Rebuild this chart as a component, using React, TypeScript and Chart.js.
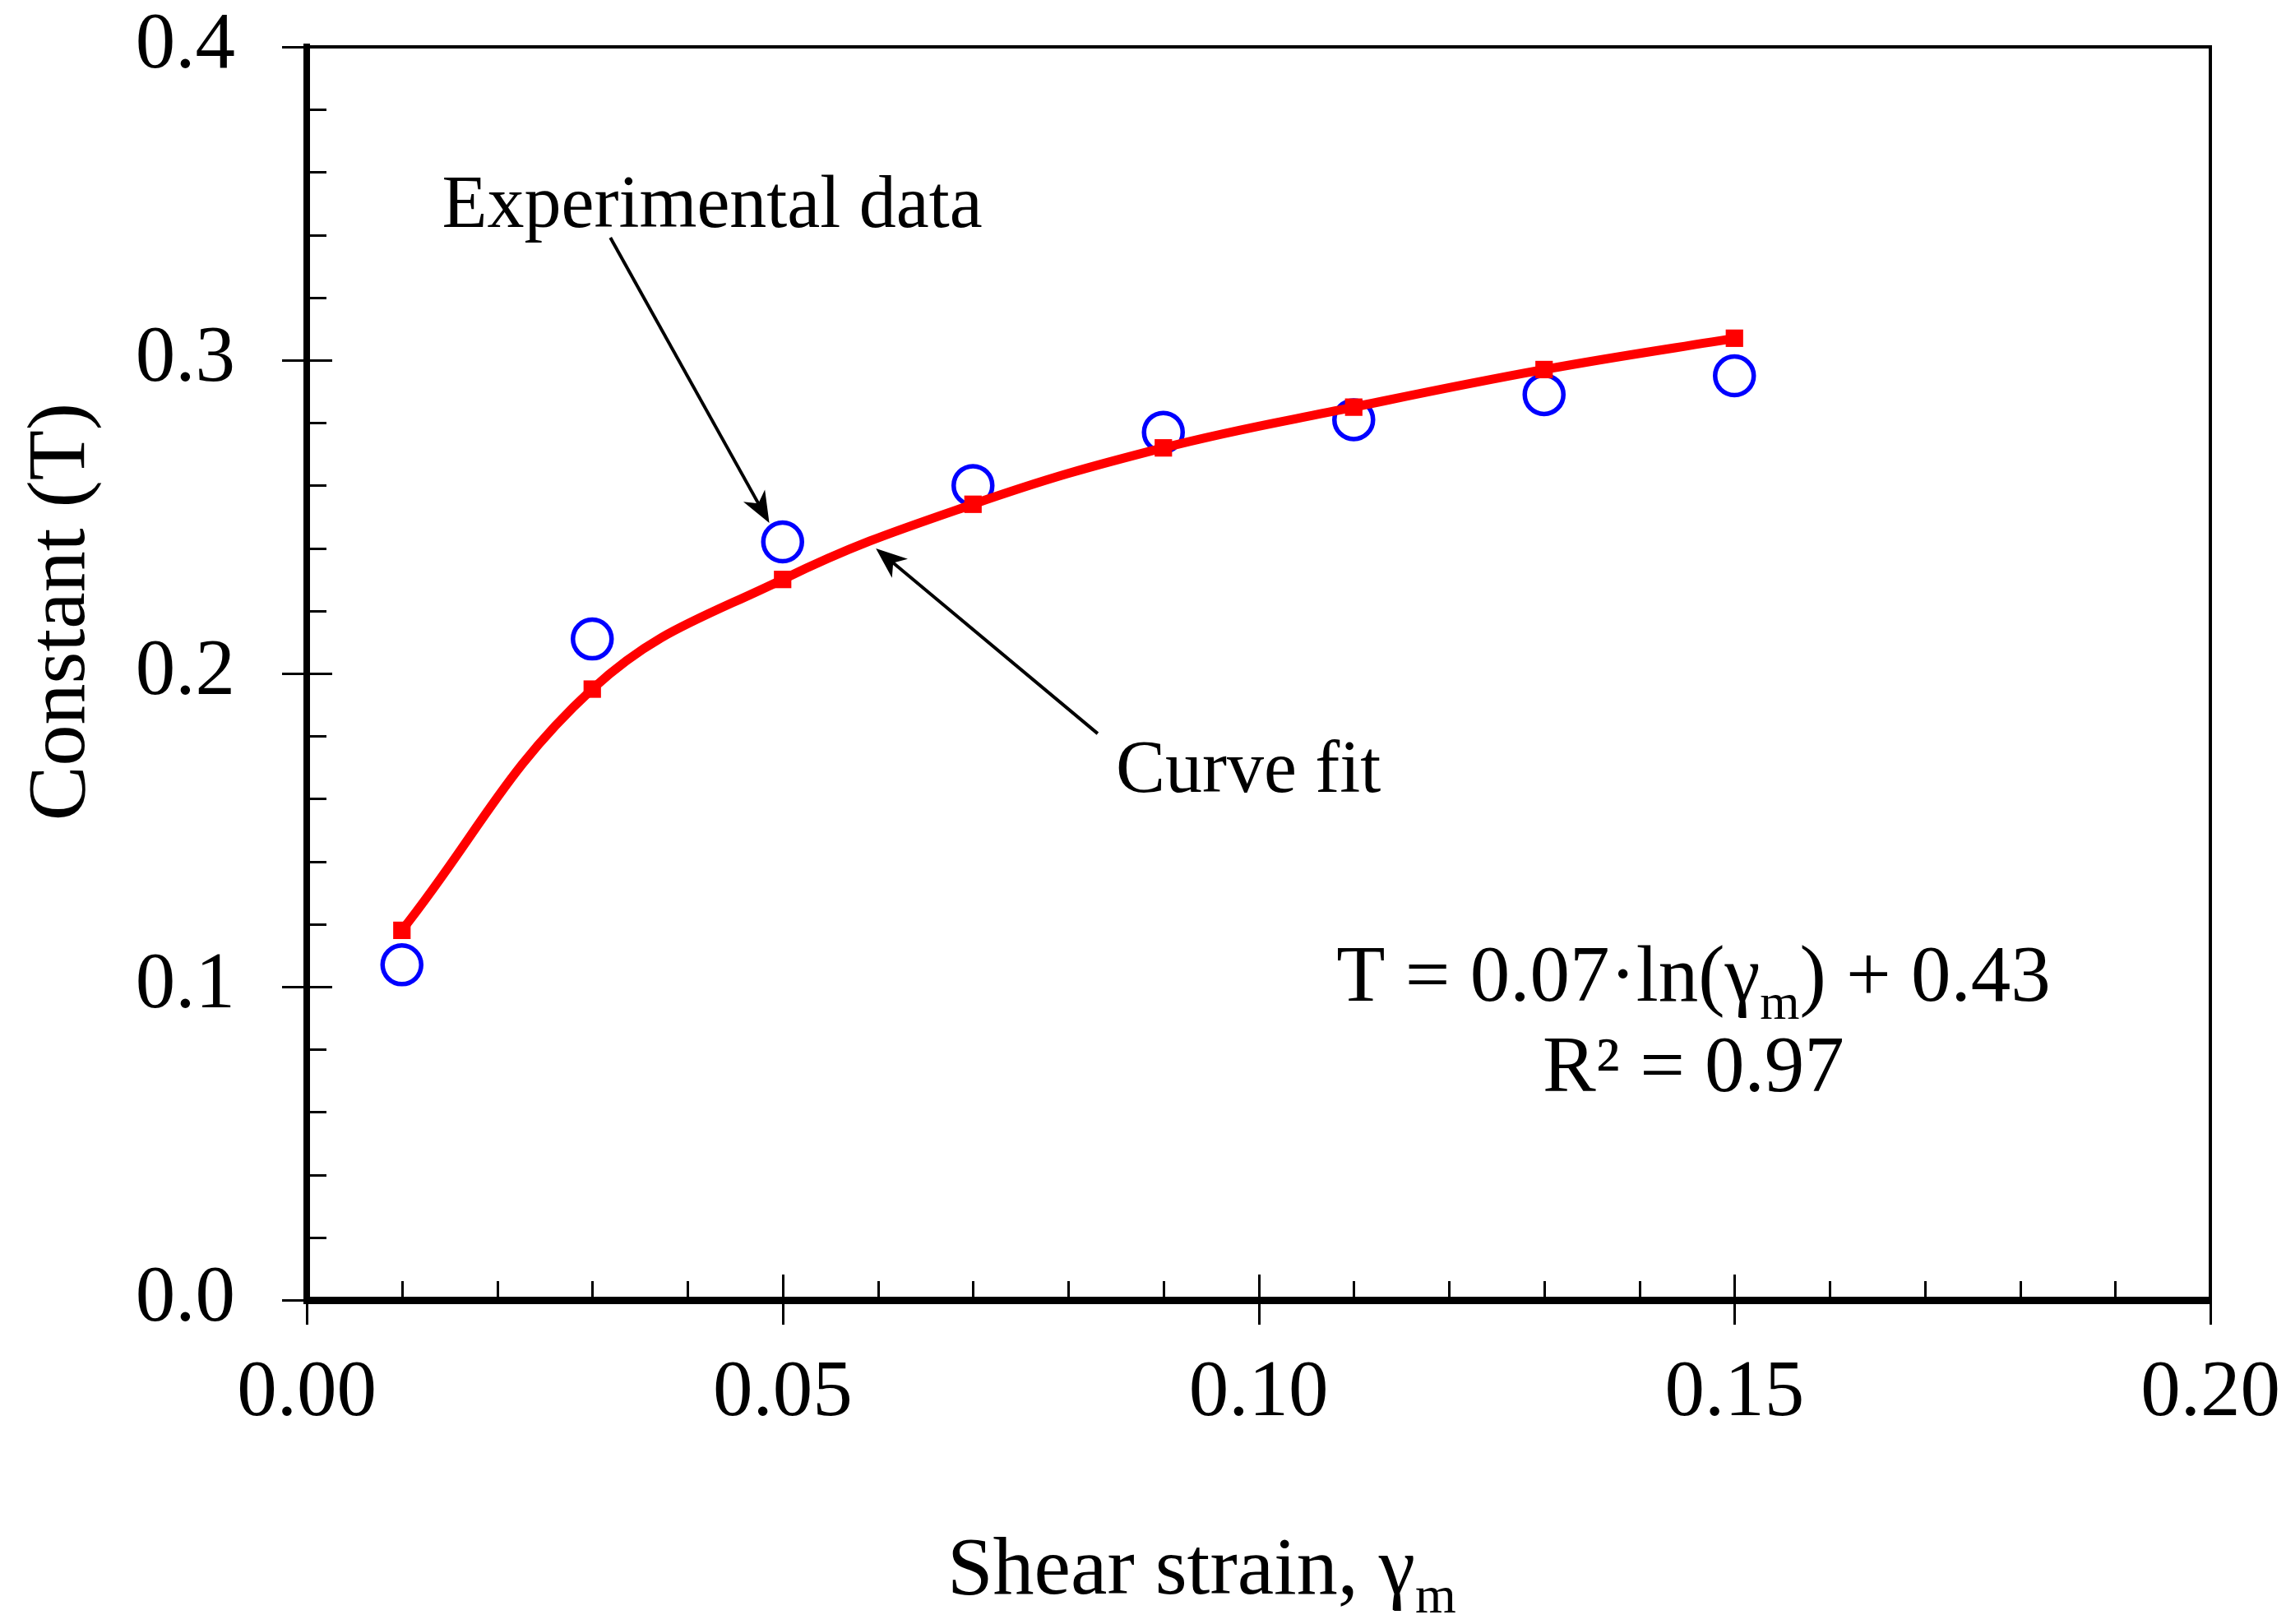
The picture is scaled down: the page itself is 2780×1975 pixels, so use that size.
import { useEffect, useRef } from 'react';
import { Chart, registerables } from 'chart.js';

Chart.register(...registerables);

// values
const shearStrain = [0.01, 0.03, 0.05, 0.07, 0.09, 0.11, 0.13, 0.15];
const experimentalT = [0.107, 0.211, 0.242, 0.260, 0.277, 0.281, 0.289, 0.295];
const curveFitT = [0.118, 0.195, 0.230, 0.254, 0.272, 0.285, 0.297, 0.307];

const xTickValues = [0, 0.05, 0.1, 0.15, 0.2];
const xTickLabels = ['0.00', '0.05', '0.10', '0.15', '0.20'];
const yTickValues = [0, 0.1, 0.2, 0.3, 0.4];
const yTickLabels = ['0.0', '0.1', '0.2', '0.3', '0.4'];
const xMinorStep = 0.01;
const yMinorStep = 0.02;

const SERIF = '"Liberation Serif", "Times New Roman", serif';

// where the plot frame sits on the canvas
const AREA = { left: 373, right: 2688, top: 57, bottom: 1581 };
const OUT_TICK = 30;

// annotation anchors, in data units
const expLabel = { x: 0.0426, y: 0.3425, text: 'Experimental data' };
const expArrow = { x0: 0.0319, y0: 0.3391, x1: 0.0486, y1: 0.248 };
const fitLabel = { x: 0.085, y: 0.1622, text: 'Curve fit' };
const fitArrow = { x0: 0.0831, y0: 0.1808, x1: 0.0598, y1: 0.2399 };
const eqPos = { x: 0.1457, y: 0.0955 };
const r2Pos = { x: 0.1457, y: 0.0667 };

function drawArrow(ctx: CanvasRenderingContext2D, x0: number, y0: number, x1: number, y1: number) {
  const ang = Math.atan2(y1 - y0, x1 - x0);
  const c = Math.cos(ang);
  const s = Math.sin(ang);
  const len = 38;
  const half = 15;
  ctx.beginPath();
  ctx.moveTo(x0, y0);
  ctx.lineTo(x1 - c * len * 0.7, y1 - s * len * 0.7);
  ctx.stroke();
  ctx.beginPath();
  ctx.moveTo(x1, y1);
  ctx.lineTo(x1 - c * len + s * half, y1 - s * len - c * half);
  ctx.lineTo(x1 - c * len * 0.72, y1 - s * len * 0.72);
  ctx.lineTo(x1 - c * len - s * half, y1 - s * len + c * half);
  ctx.closePath();
  ctx.fill();
}

// text with a subscript run: parts of [text, isSub]
function drawRich(ctx: CanvasRenderingContext2D, parts: [string, boolean][], x: number, y: number, size: number, align: 'left' | 'center') {
  const subSize = Math.round(size * 0.64);
  let total = 0;
  for (const [t, sub] of parts) {
    ctx.font = `${sub ? subSize : size}px ${SERIF}`;
    total += ctx.measureText(t).width;
  }
  let cx = align === 'center' ? x - total / 2 : x;
  ctx.textAlign = 'left';
  ctx.textBaseline = 'alphabetic';
  for (const [t, sub] of parts) {
    ctx.font = `${sub ? subSize : size}px ${SERIF}`;
    ctx.fillText(t, cx, sub ? y + size * 0.23 : y);
    cx += ctx.measureText(t).width;
  }
}

const decorPlugin = {
  id: 'decor',
  afterDraw(chart: any) {
    const { ctx, chartArea: a, scales } = chart;
    const xs = scales.x;
    const ys = scales.y;
    ctx.save();
    ctx.strokeStyle = '#000';
    ctx.fillStyle = '#000';

    // top and right frame
    ctx.lineWidth = 4;
    ctx.beginPath();
    ctx.moveTo(a.left, a.top);
    ctx.lineTo(a.right, a.top);
    ctx.lineTo(a.right, a.bottom);
    ctx.stroke();

    // ticks: minor inside, major crossing the axis
    ctx.lineWidth = 3;
    const nx = Math.round((xs.max - xs.min) / xMinorStep);
    for (let i = 0; i <= nx; i++) {
      const v = xs.min + i * xMinorStep;
      const major = xTickValues.some((t) => Math.abs(t - v) < 1e-9);
      const px = Math.round(xs.getPixelForValue(v)) + 0.5;
      ctx.beginPath();
      ctx.moveTo(px, a.bottom + (major ? OUT_TICK : 0));
      ctx.lineTo(px, a.bottom - (major ? 31 : 23));
      ctx.stroke();
    }
    const ny = Math.round((ys.max - ys.min) / yMinorStep);
    for (let i = 0; i <= ny; i++) {
      const v = ys.min + i * yMinorStep;
      const major = yTickValues.some((t) => Math.abs(t - v) < 1e-9);
      const py = Math.round(ys.getPixelForValue(v)) + 0.5;
      ctx.beginPath();
      ctx.moveTo(a.left - (major ? OUT_TICK : 0), py);
      ctx.lineTo(a.left + (major ? 31 : 24), py);
      ctx.stroke();
    }

    // annotations
    ctx.lineWidth = 4;
    drawArrow(ctx, xs.getPixelForValue(expArrow.x0), ys.getPixelForValue(expArrow.y0),
      xs.getPixelForValue(expArrow.x1), ys.getPixelForValue(expArrow.y1));
    drawArrow(ctx, xs.getPixelForValue(fitArrow.x0), ys.getPixelForValue(fitArrow.y0),
      xs.getPixelForValue(fitArrow.x1), ys.getPixelForValue(fitArrow.y1));

    ctx.textBaseline = 'alphabetic';
    ctx.font = `90px ${SERIF}`;
    ctx.textAlign = 'center';
    ctx.fillText(expLabel.text, xs.getPixelForValue(expLabel.x), ys.getPixelForValue(expLabel.y));
    ctx.textAlign = 'left';
    ctx.fillText(fitLabel.text, xs.getPixelForValue(fitLabel.x), ys.getPixelForValue(fitLabel.y));

    drawRich(ctx, [['T = 0.07\u00b7ln(\u03b3', false], ['m', true], [') + 0.43', false]],
      xs.getPixelForValue(eqPos.x), ys.getPixelForValue(eqPos.y), 97, 'center');
    ctx.font = `97px ${SERIF}`;
    ctx.textAlign = 'center';
    ctx.fillText('R\u00b2 = 0.97', xs.getPixelForValue(r2Pos.x), ys.getPixelForValue(r2Pos.y));

    // axis titles
    drawRich(ctx, [['Shear strain, \u03b3', false], ['m', true]], 1152, 1938, 100, 'left');
    ctx.save();
    ctx.translate(102, 744);
    ctx.rotate(-Math.PI / 2);
    ctx.font = `100px ${SERIF}`;
    ctx.textAlign = 'center';
    ctx.textBaseline = 'alphabetic';
    ctx.fillText('Constant (T)', 0, 0);
    ctx.restore();

    ctx.restore();
  },
};

export default function App() {
  const chartRef = useRef<HTMLCanvasElement>(null);

  useEffect(() => {
    document.body.style.margin = '0';
    if (!chartRef.current) return;

    const chart = new Chart(chartRef.current, {
      type: 'scatter',
      data: {
        datasets: [
          {
            label: 'Curve fit',
            data: shearStrain.map((x, i) => ({ x, y: curveFitT[i] })),
            showLine: true,
            borderColor: '#ff0000',
            backgroundColor: '#ff0000',
            borderWidth: 11,
            tension: 0.4,
            pointStyle: 'rect',
            pointRadius: 15,
            pointBorderWidth: 0,
            order: 0,
          },
          {
            label: 'Experimental data',
            data: shearStrain.map((x, i) => ({ x, y: experimentalT[i] })),
            showLine: false,
            borderColor: '#0000ff',
            backgroundColor: 'rgba(0,0,0,0)',
            pointStyle: 'circle',
            pointRadius: 23.5,
            pointBorderWidth: 5.5,
            order: 1,
          },
        ],
      },
      options: {
        animation: false,
        responsive: true,
        maintainAspectRatio: false,
        layout: {
          padding: { top: AREA.top, right: 2780 - AREA.right, left: 0, bottom: 0 },
          autoPadding: false,
        },
        plugins: {
          legend: { display: false },
          tooltip: { enabled: false },
        },
        scales: {
          x: {
            type: 'linear',
            min: 0,
            max: 0.2,
            afterBuildTicks: (scale: any) => {
              scale.ticks = xTickValues.map((value) => ({ value }));
            },
            afterFit: (scale: any) => {
              scale.height = 1975 - AREA.bottom;
            },
            ticks: {
              callback: (_v: any, i: number) => xTickLabels[i],
              font: { family: SERIF, size: 97, lineHeight: 1 },
              color: '#000',
              padding: 0,
              maxRotation: 0,
              autoSkip: false,
            },
            grid: {
              drawOnChartArea: false,
              drawTicks: true,
              tickLength: 66,
              tickColor: 'rgba(0,0,0,0)',
            },
            border: { display: true, width: 9, color: '#000' },
          },
          y: {
            type: 'linear',
            min: 0,
            max: 0.4,
            afterBuildTicks: (scale: any) => {
              scale.ticks = yTickValues.map((value) => ({ value }));
            },
            afterFit: (scale: any) => {
              scale.width = AREA.left;
            },
            ticks: {
              callback: (_v: any, i: number) => yTickLabels[i],
              font: { family: SERIF, size: 97, lineHeight: 1 },
              color: '#000',
              padding: 0,
              autoSkip: false,
            },
            grid: {
              drawOnChartArea: false,
              drawTicks: true,
              tickLength: 87,
              tickColor: 'rgba(0,0,0,0)',
            },
            border: { display: true, width: 8, color: '#000' },
          },
        },
      },
      plugins: [decorPlugin],
    });

    return () => chart.destroy();
  }, []);

  return (
    <div style={{ width: 2780, height: 1975, position: 'relative', background: '#fff' }}>
      <canvas ref={chartRef} />
    </div>
  );
}
